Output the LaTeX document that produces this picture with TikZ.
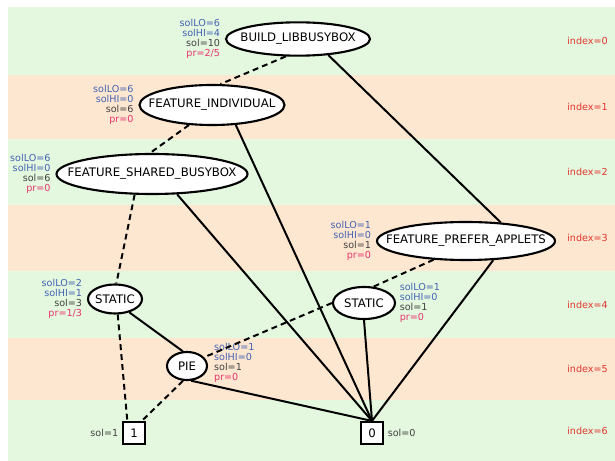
\documentclass[tikz,border=0pt]{standalone}
\usepackage{fontspec}
\setmainfont{DejaVu Sans}
\usetikzlibrary{shapes.geometric,positioning}

\definecolor{bandgreen}{HTML}{E4F8E0}
\definecolor{bandorange}{HTML}{FEE7D1}
\definecolor{solblue}{HTML}{4262B2}
\definecolor{solgray}{HTML}{404040}
\definecolor{prpink}{HTML}{E8346C}
\definecolor{idxred}{HTML}{E0362E}

% four lines of numbers beside a node
\newcommand{\solinfo}[4]{\textcolor{solblue}{solLO=#1}\\\textcolor{solblue}{solHI=#2}\\
  \textcolor{solgray}{sol=#3}\\\textcolor{prpink}{pr=#4}}

\tikzset{
  bdd/.style={ellipse,draw,fill=white,line width=1.8pt,inner sep=-1cm,
    font=\fontsize{10}{11}\selectfont},
  term/.style={rectangle,draw,fill=white,line width=1.8pt,minimum size=0.66cm,
    inner sep=0pt,font=\fontsize{10}{11}\selectfont},
  info/.style={inner sep=0pt,font=\fontsize{8.2}{8.5}\selectfont},
  idx/.style={inner sep=0pt,anchor=east,text=idxred,font=\fontsize{8.2}{8.5}\selectfont},
  lo/.style={line width=1.7pt,dash pattern=on 5pt off 3.5pt},
  hi/.style={line width=1.7pt}
}

\begin{document}
\begin{tikzpicture}[x=0.03cm,y=-0.03cm]
  \useasboundingbox (0,0) rectangle (615,461);

  % one band for each index
  \foreach \ya/\yb/\i/\col in {7/75/0/bandgreen,75/139/1/bandorange,139/205/2/bandgreen,
      205/271/3/bandorange,271/338/4/bandgreen,338/400/5/bandorange,400/461/6/bandgreen}
  {
    \fill[\col] (8,\ya) rectangle (615,\yb);
    \node[idx] (idx\i) at (608,{(\ya+\yb)/2}) {index=\i};
  }

  \node[bdd,minimum width=4.32cm,minimum height=1.0cm] (build) at (298,39) {BUILD\_LIBBUSYBOX};
  \node[bdd,minimum width=4.35cm,minimum height=1.2cm] (ind) at (212,105) {FEATURE\_INDIVIDUAL};
  \node[bdd,minimum width=5.73cm,minimum height=1.2cm] (shared) at (152,174) {FEATURE\_SHARED\_BUSYBOX};
  \node[bdd,minimum width=5.34cm,minimum height=1.14cm] (prefer) at (466,241) {FEATURE\_PREFER\_APPLETS};
  \node[bdd,minimum width=1.62cm,minimum height=0.87cm] (staticA) at (115,299) {STATIC};
  \node[bdd,minimum width=1.86cm,minimum height=0.96cm] (staticB) at (364,303) {STATIC};
  \node[bdd,minimum width=1.2cm,minimum height=0.84cm] (pie) at (187,366) {PIE};
  \node[term] (one) at (134,433) {1};
  \node[term] (zero) at (372,433) {0};

  \node[info,align=right,left=4pt of build] (ibuild) {\solinfo{6}{4}{10}{2/5}};
  \node[info,align=right,left=4pt of ind] (iind) {\solinfo{6}{0}{6}{0}};
  \node[info,align=right,left=4pt of shared] (ishared) {\solinfo{6}{0}{6}{0}};
  \node[info,align=right,left=4pt of prefer] (iprefer) {\solinfo{1}{0}{1}{0}};
  \node[info,align=right,left=4pt of staticA] (istaticA) {\solinfo{2}{1}{3}{1/3}};
  \node[info,align=left,right=3pt of staticB] (istaticB) {\solinfo{1}{0}{1}{0}};
  \node[info,align=left,right=5pt of pie,yshift=3pt] (ipie) {\solinfo{1}{0}{1}{0}};
  \node[info,left=3pt of one,text=solgray] (ione) {sol=1};
  \node[info,right=3pt of zero,text=solgray] (izero) {sol=0};

  % low edges dashed, high edges solid
  \draw[lo] (build.235) -- (ind.68);
  \draw[hi] (build.332) -- (prefer.28);
  \draw[lo] (ind.221) -- (shared.95);
  \draw[hi] (ind.320) -- (zero.north);
  \draw[lo] (shared.230) -- (staticA.85);
  \draw[hi] (shared.321) -- (zero.north);
  \draw[lo] (prefer.210) -- (staticB.60);
  \draw[hi] (prefer.325) -- (zero.north);
  \draw[lo] (staticA.280) -- (one.119);
  \draw[hi] (staticA.317) -- (pie.106);
  \draw[lo] (staticB.west) -- (pie.27);
  \draw[hi] (staticB.south) -- (zero.north);
  \draw[lo] (pie.255) -- (one.57);
  \draw[hi] (pie.286) -- (zero.north);
\end{tikzpicture}
\end{document}
